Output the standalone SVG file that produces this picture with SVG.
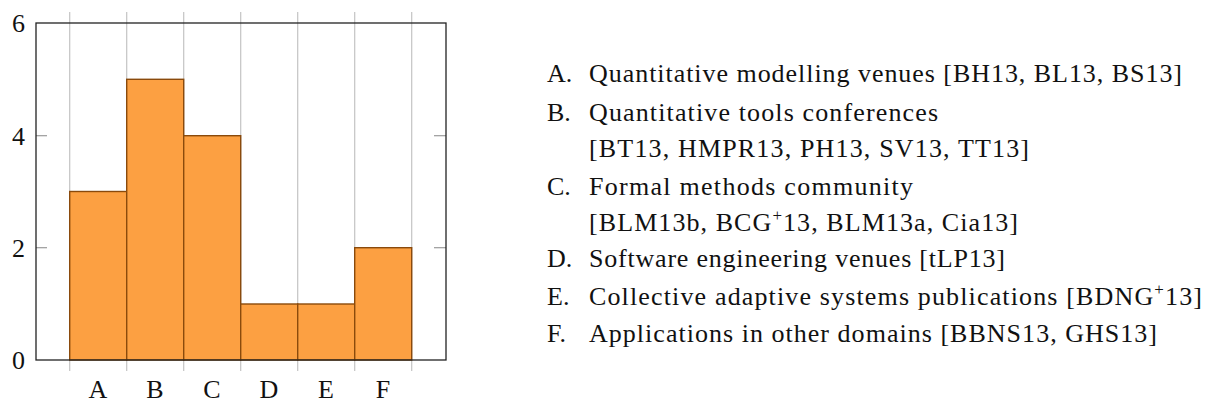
<svg xmlns="http://www.w3.org/2000/svg" width="1206" height="403" viewBox="0 0 1206 403">
<style>
text{font-family:'Liberation Serif',LiberationSerif,'DejaVu Serif',DejaVuSerif,'Noto Serif','Tinos','FreeSerif',serif;font-size:26px;fill:#111}
.grid{stroke:#c4c4c4;stroke-width:1.2}
.tick{stroke:#9a9a9a;stroke-width:1.2}
.bar{fill:#fca042;stroke:#8a4a0c;stroke-width:1.4}
.axis{fill:none;stroke:#222;stroke-width:1.3}
.sup{font-size:17px}
</style>
<rect width="1206" height="403" fill="#fff"/>
<g id="chart">
<g id="grid">
<line class="grid" x1="69.7" y1="12" x2="69.7" y2="371"/>
<line class="grid" x1="126.7" y1="12" x2="126.7" y2="371"/>
<line class="grid" x1="183.7" y1="12" x2="183.7" y2="371"/>
<line class="grid" x1="240.7" y1="12" x2="240.7" y2="371"/>
<line class="grid" x1="297.7" y1="12" x2="297.7" y2="371"/>
<line class="grid" x1="354.7" y1="12" x2="354.7" y2="371"/>
<line class="grid" x1="411.7" y1="12" x2="411.7" y2="371"/>
</g>
<g id="bars">
<rect id="bar-A" class="bar" x="69.7" y="191.5" width="57" height="168.5"/>
<rect id="bar-B" class="bar" x="126.7" y="79.3" width="57" height="280.7"/>
<rect id="bar-C" class="bar" x="183.7" y="135.7" width="57" height="224.3"/>
<rect id="bar-D" class="bar" x="240.7" y="304" width="57" height="56"/>
<rect id="bar-E" class="bar" x="297.7" y="304" width="57" height="56"/>
<rect id="bar-F" class="bar" x="354.7" y="247.7" width="57" height="112.3"/>
</g>
<g id="ticks">
<line class="tick" x1="36" y1="247.7" x2="47" y2="247.7"/>
<line class="tick" x1="36" y1="135.7" x2="47" y2="135.7"/>
<line class="tick" x1="434" y1="247.7" x2="446" y2="247.7"/>
<line class="tick" x1="434" y1="135.7" x2="446" y2="135.7"/>
</g>
<rect class="axis" x="36" y="23" width="410" height="337"/>
<g id="ylabels" text-anchor="end">
<text x="25" y="32">6</text>
<text x="25" y="145">4</text>
<text x="25" y="257">2</text>
<text x="25" y="369">0</text>
</g>
<g id="xlabels" text-anchor="middle">
<text x="98" y="398">A</text>
<text x="155" y="398">B</text>
<text x="212" y="398">C</text>
<text x="269" y="398">D</text>
<text x="326" y="398">E</text>
<text x="383" y="398">F</text>
</g>
</g>
<g id="legend">
<g id="item-A"><text x="547" y="82">A.</text><text x="589" y="82" textLength="593" lengthAdjust="spacing">Quantitative modelling venues [BH13, BL13, BS13]</text></g>
<g id="item-B"><text x="547" y="121">B.</text><text x="589" y="121" textLength="349" lengthAdjust="spacing">Quantitative tools conferences</text><text x="589" y="157" textLength="440" lengthAdjust="spacing">[BT13, HMPR13, PH13, SV13, TT13]</text></g>
<g id="item-C"><text x="547" y="195">C.</text><text x="589" y="195" textLength="324" lengthAdjust="spacing">Formal methods community</text><text x="589" y="231" textLength="429" lengthAdjust="spacing">[BLM13b, BCG<tspan class="sup" dy="-10">+</tspan><tspan dy="10">13, BLM13a, Cia13]</tspan></text></g>
<g id="item-D"><text x="547" y="267">D.</text><text x="589" y="267" textLength="416" lengthAdjust="spacing">Software engineering venues [tLP13]</text></g>
<g id="item-E"><text x="547" y="305">E.</text><text x="589" y="305" textLength="613" lengthAdjust="spacing">Collective adaptive systems publications [BDNG<tspan class="sup" dy="-10">+</tspan><tspan dy="10">13]</tspan></text></g>
<g id="item-F"><text x="547" y="342">F.</text><text x="589" y="342" textLength="568" lengthAdjust="spacing">Applications in other domains [BBNS13, GHS13]</text></g>
</g>
</svg>
